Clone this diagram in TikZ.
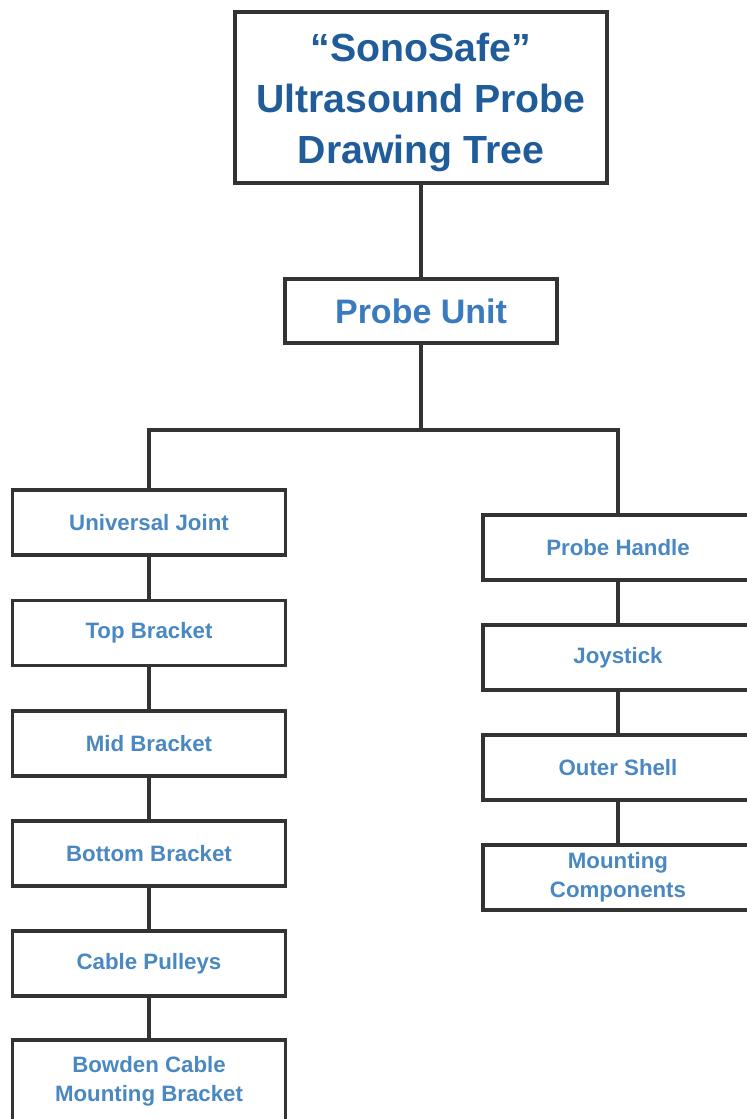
\documentclass[tikz,border=0pt]{standalone}
\usepackage{fontspec}
\setmainfont{Liberation Sans}
\usetikzlibrary{positioning}
\usepackage{xcolor}
\definecolor{titleblue}{HTML}{1F5C99}
\definecolor{unitblue}{HTML}{3A7BBF}
\definecolor{partblue}{HTML}{4A88C2}
\definecolor{edgegray}{HTML}{333333}

\tikzset{
    treebox/.style={draw=edgegray, line width=2.7pt, fill=white, align=center, inner sep=0pt},
    rootbox/.style={treebox, minimum width=11.16cm, minimum height=5.13cm, text=titleblue, font=\fontsize{33.5}{43.5}\selectfont\bfseries},
    unitbox/.style={treebox, minimum width=8.16cm, minimum height=1.92cm, text=unitblue, font=\fontsize{29}{32}\selectfont\bfseries},
    partbox/.style={treebox, minimum width=8.19cm, minimum height=1.95cm, text=partblue, font=\fontsize{19}{24.5}\selectfont\bfseries},
    link/.style={draw=edgegray, line width=2.7pt}
}

\begin{document}
\begin{tikzpicture}[x=0.03cm, y=-0.03cm]
    \useasboundingbox (0,0) rectangle (746,1119);

    % Root and assembly
    \node[rootbox] (root) at (421,97.5) {\rule{0pt}{33pt}“SonoSafe”\\Ultrasound Probe\\Drawing Tree};
    \node[unitbox] (unit) at (421,311) {Probe Unit};
    \coordinate (split) at (421,430);

    % Left branch
    \node[partbox] (joint) at (149,522.5) {Universal Joint};
    \node[partbox] (topbr) at (149,633) {Top Bracket};
    \node[partbox] (midbr) at (149,743.5) {Mid Bracket};
    \node[partbox] (botbr) at (149,853.5) {Bottom Bracket};
    \node[partbox] (pulleys) at (149,963.5) {Cable Pulleys};
    \node[partbox, minimum height=2.46cm] (bowden) at (149,1081) {Bowden Cable\\Mounting Bracket};

    % Right branch
    \node[partbox, minimum width=8.1cm] (handle) at (618,547.5) {Probe Handle};
    \node[partbox, minimum width=8.1cm] (joystick) at (618,657.5) {Joystick};
    \node[partbox, minimum width=8.1cm] (shell) at (618,767.5) {Outer Shell};
    \node[partbox, minimum width=8.1cm] (mounting) at (618,877.5) {Mounting\\Components};

    % Connections
    \draw[link] (root) -- (unit);
    \draw[link] (unit) -- (split);
    \draw[link] (split) -| (joint);
    \draw[link] (split) -| (handle);
    \foreach \a/\b in {joint/topbr, topbr/midbr, midbr/botbr, botbr/pulleys, pulleys/bowden,
                       handle/joystick, joystick/shell, shell/mounting}
        \draw[link] (\a) -- (\b);
\end{tikzpicture}
\end{document}
